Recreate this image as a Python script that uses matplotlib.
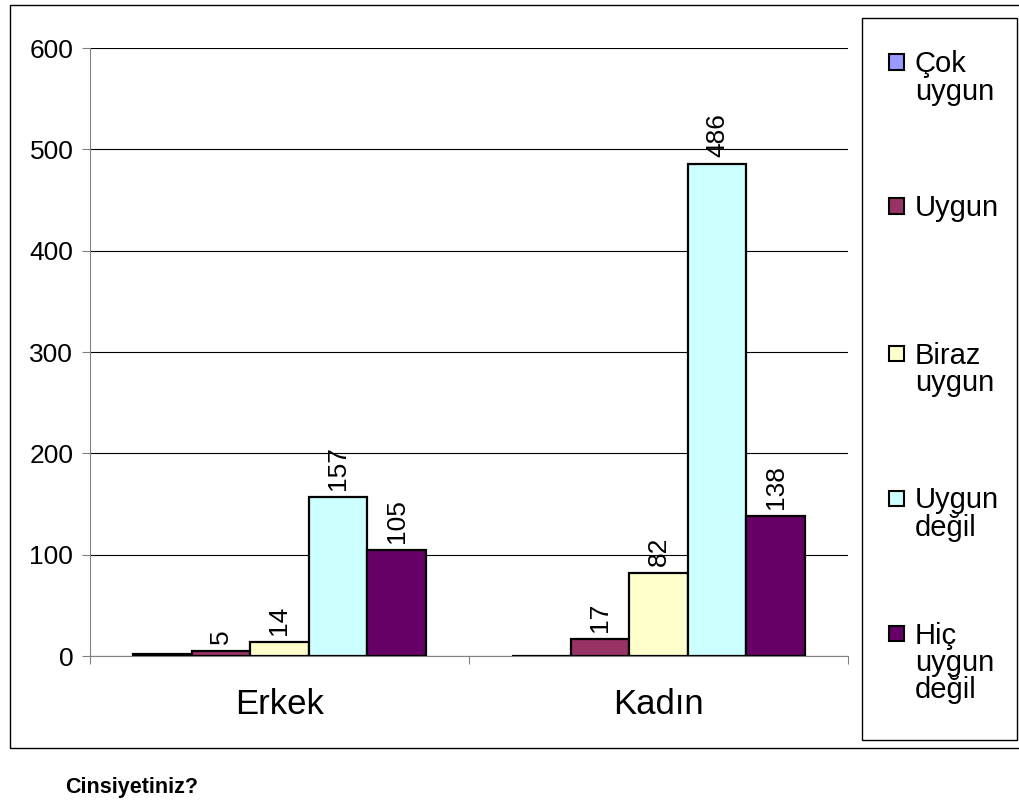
import matplotlib
matplotlib.use("Agg")
import matplotlib.pyplot as plt
from matplotlib.patches import Rectangle
import numpy as np

plt.rcParams['font.family'] = ['Liberation Sans', 'DejaVu Sans']

categories = ['Erkek', 'Kadın']
series = ['Çok uygun', 'Uygun', 'Biraz uygun', 'Uygun değil', 'Hiç uygun değil']
legend_labels = ['Çok\nuygun', 'Uygun', 'Biraz\nuygun', 'Uygun\ndeğil', 'Hiç\nuygun\ndeğil']
values = {
    'Çok uygun': [2, 0],
    'Uygun': [5, 17],
    'Biraz uygun': [14, 82],
    'Uygun değil': [157, 486],
    'Hiç uygun değil': [105, 138],
}
show_label = {'Çok uygun': False}
colors = ['#9999FF', '#993366', '#FFFFCC', '#CCFFFF', '#660066']
yticks = [0, 100, 200, 300, 400, 500, 600]

W, H = 1019, 800
fig = plt.figure(figsize=(W / 100, H / 100), dpi=100)

# outer chart frame and legend frame (pixel coords -> figure coords)
def px_rect(x0, y0, x1, y1, lw):
    fig.patches.append(Rectangle((x0 / W, 1 - y1 / H), (x1 - x0) / W, (y1 - y0) / H,
                                 transform=fig.transFigure, fill=False,
                                 edgecolor='black', linewidth=lw))

px_rect(10, 5, 1022, 748, 1.0)
px_rect(862, 18, 1017, 740, 1.0)

ax = fig.add_axes([90 / W, 1 - 656 / H, (848 - 90) / W, (656 - 48) / H])
x = np.arange(len(categories))
bw = 0.1546
n = len(series)
for i, s in enumerate(series):
    pos = x + (i - (n - 1) / 2) * bw
    bars = ax.bar(pos, values[s], width=bw, color=colors[i], edgecolor='black',
                  linewidth=1.6, zorder=3)
    if show_label.get(s, True):
        for b, v in zip(bars, values[s]):
            ax.annotate(str(v), (b.get_x() + b.get_width() / 2, v),
                        xytext=(0, 5), textcoords='offset points',
                        rotation=90, ha='center', va='bottom', fontsize=19)

ax.set_xlim(-0.5, 1.5)
ax.set_ylim(0, 600)
ax.set_yticks(yticks)
ax.set_yticklabels([str(t) for t in yticks], fontsize=19)
ax.yaxis.grid(True, color='black', linewidth=0.8, zorder=0)
ax.set_xticks([-0.5, 0.5, 1.5])
ax.set_xticklabels([])
ax.set_xticks(x, minor=True)
ax.set_xticklabels(categories, minor=True, fontsize=25)
ax.tick_params(axis='x', which='minor', length=0, pad=23)
ax.tick_params(axis='x', which='major', length=6, direction='out', color='gray')
ax.tick_params(axis='y', length=6, direction='out', color='gray', pad=6)
for side in ['top', 'right']:
    ax.spines[side].set_visible(False)
ax.spines['left'].set_color('gray')
ax.spines['bottom'].set_color('gray')

# legend drawn by hand to follow the reference spacing
square_y = [62, 206, 353, 498, 633]
for lab, col, sy in zip(legend_labels, colors, square_y):
    fig.patches.append(Rectangle((889 / W, 1 - (sy + 7.5) / H), 15 / W, 15 / H,
                                 transform=fig.transFigure, facecolor=col,
                                 edgecolor='black', linewidth=1.5))
    fig.text(915 / W, 1 - (sy - 11.5) / H, lab, fontsize=21, va='top', ha='left',
             linespacing=0.97)

fig.text(65 / W, 1 - 788 / H, 'Cinsiyetiniz?', fontsize=15.5, fontweight='bold',
         va='center', ha='left')

fig.savefig('out.png', dpi=100)
